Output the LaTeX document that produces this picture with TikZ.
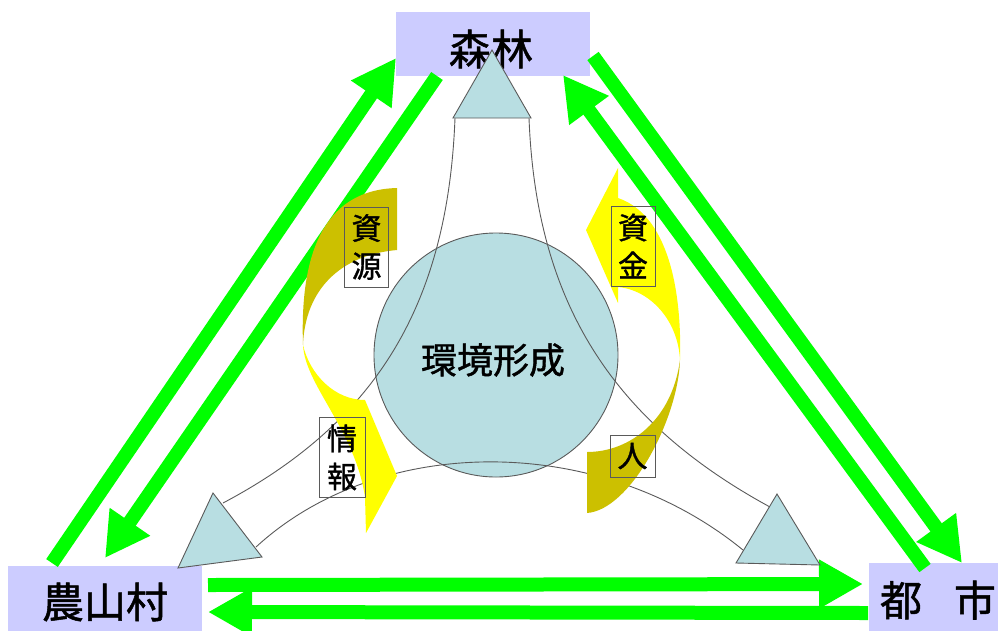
\documentclass[tikz,border=0pt]{standalone}
\usepackage{fontspec}
\setmainfont{Noto Sans CJK JP}[FakeBold=1.2]
\usetikzlibrary{arrows.meta}
\definecolor{grn}{HTML}{00FF00}
\definecolor{lav}{HTML}{CCCCFF}
\definecolor{pale}{HTML}{B8DEE2}
\definecolor{yel}{HTML}{FFFF00}
\definecolor{dkyel}{HTML}{CCC000}
\definecolor{edge}{HTML}{5A5A5A}
\begin{document}
\begin{tikzpicture}[x=1pt,y=-1pt,
  garrow/.style={draw=grn,line width=14pt,-{Triangle[length=44pt,width=46pt]}},
  place/.style={fill=lav,draw=none,inner sep=0pt},
  bigtxt/.style={font=\fontsize{42}{44}\selectfont,inner sep=0pt},
  midtxt/.style={font=\fontsize{36}{40}\selectfont,inner sep=0pt},
  lbl/.style={draw=edge,line width=0.8pt,minimum width=44pt,minimum height=80pt,inner sep=0pt,align=center,font=\fontsize{30}{38}\selectfont},
  pipe/.style={draw=edge,line width=0.9pt},
  blob/.style={fill=pale,draw=edge,line width=0.9pt},
]
\useasboundingbox (0,0) rectangle (998,630);
% place boxes
\node[place,minimum width=194pt,minimum height=64pt] (forest) at (493,44) {};
\node[place,minimum width=194pt,minimum height=66pt] (village) at (105,599) {};
\node[place,minimum width=132pt,minimum height=68pt] (city) at (935,597) {};
% green arrow end points
\coordinate (a1s) at (52,563);  \coordinate (a1e) at (396,58);
\coordinate (a2s) at (437,76);  \coordinate (a2e) at (105,558);
\coordinate (a3s) at (593,56);  \coordinate (a3e) at (962,563);
\coordinate (a4s) at (925,568); \coordinate (a4e) at (563,75);
\coordinate (a5s) at (208,585); \coordinate (a5e) at (863,584);
\coordinate (a6s) at (868,613); \coordinate (a6e) at (208,612);
\draw[garrow] (a1s) -- (a1e);
\draw[garrow] (a2s) -- (a2e);
\draw[garrow] (a3s) -- (a3e);
\draw[garrow] (a4s) -- (a4e);
\draw[garrow] (a5s) -- (a5e);
\draw[garrow] (a6s) -- (a6e);
% texts of places
\node[bigtxt] (forestT) at (491,49) {森林};
\node[bigtxt] (villT) at (105,602) {農山村};
\node[bigtxt] (cityT) at (938,600) {都\hspace{0.76em}市};
% centre circle
\node[circle,fill=pale,draw=edge,line width=0.9pt,minimum size=244pt,inner sep=0pt] (env) at (496,355) {};
% funnel curves
\coordinate (p1) at (455,118); \coordinate (p2) at (223,503);
\coordinate (p3) at (529,118); \coordinate (p4) at (770,507);
\coordinate (p5) at (256,547); \coordinate (p6) at (743,550);
\draw[pipe] (p1) .. controls (448,300) and (380,420) .. (p2);
\draw[pipe] (p3) .. controls (536,300) and (610,420) .. (p4);
\draw[pipe] (p5) .. controls (380,433) and (600,433) .. (p6);
% triangles
\coordinate (tT) at (492,50);  \coordinate (tL) at (453,118); \coordinate (tR) at (531,118);
\coordinate (lT) at (213,493); \coordinate (lL) at (178,568); \coordinate (lR) at (262,557);
\coordinate (rT) at (777,494); \coordinate (rL) at (736,563); \coordinate (rR) at (820,565);
\draw[blob] (tT) -- (tL) -- (tR) -- cycle;
\draw[blob] (lT) -- (lL) -- (lR) -- cycle;
\draw[blob] (rT) -- (rL) -- (rR) -- cycle;
% yellow curved arrows
\fill[dkyel] (397,188) .. controls (320,190) and (300,260) .. (303,345)
  .. controls (305,290) and (340,255) .. (397,250) -- cycle;
\fill[yel] (303,345) .. controls (305,385) and (355,430) .. (365,497)
  -- (366,533) -- (397,476) -- (365,400)
  .. controls (335,400) and (310,375) .. (303,345) -- cycle;
\fill[yel] (680,360) .. controls (682,290) and (668,215) .. (618,198)
  -- (618,168) -- (586,230) -- (618,303) -- (618,287)
  .. controls (650,290) and (678,320) .. (680,360) -- cycle;
\fill[dkyel] (680,360) .. controls (678,420) and (630,510) .. (587,513)
  -- (587,452) .. controls (630,452) and (672,420) .. (680,360) -- cycle;
% labels
\node[lbl] (res) at (366.5,247) {資\\源};
\node[lbl,minimum width=46pt] (info) at (342,457.5) {情\\報};
\node[lbl] (fund) at (633,246) {資\\金};
\node[lbl,minimum width=45pt,minimum height=42pt] (ppl) at (632.5,456) {人};
\node[midtxt] (envT) at (493,360) {環境形成};
\end{tikzpicture}
\end{document}
